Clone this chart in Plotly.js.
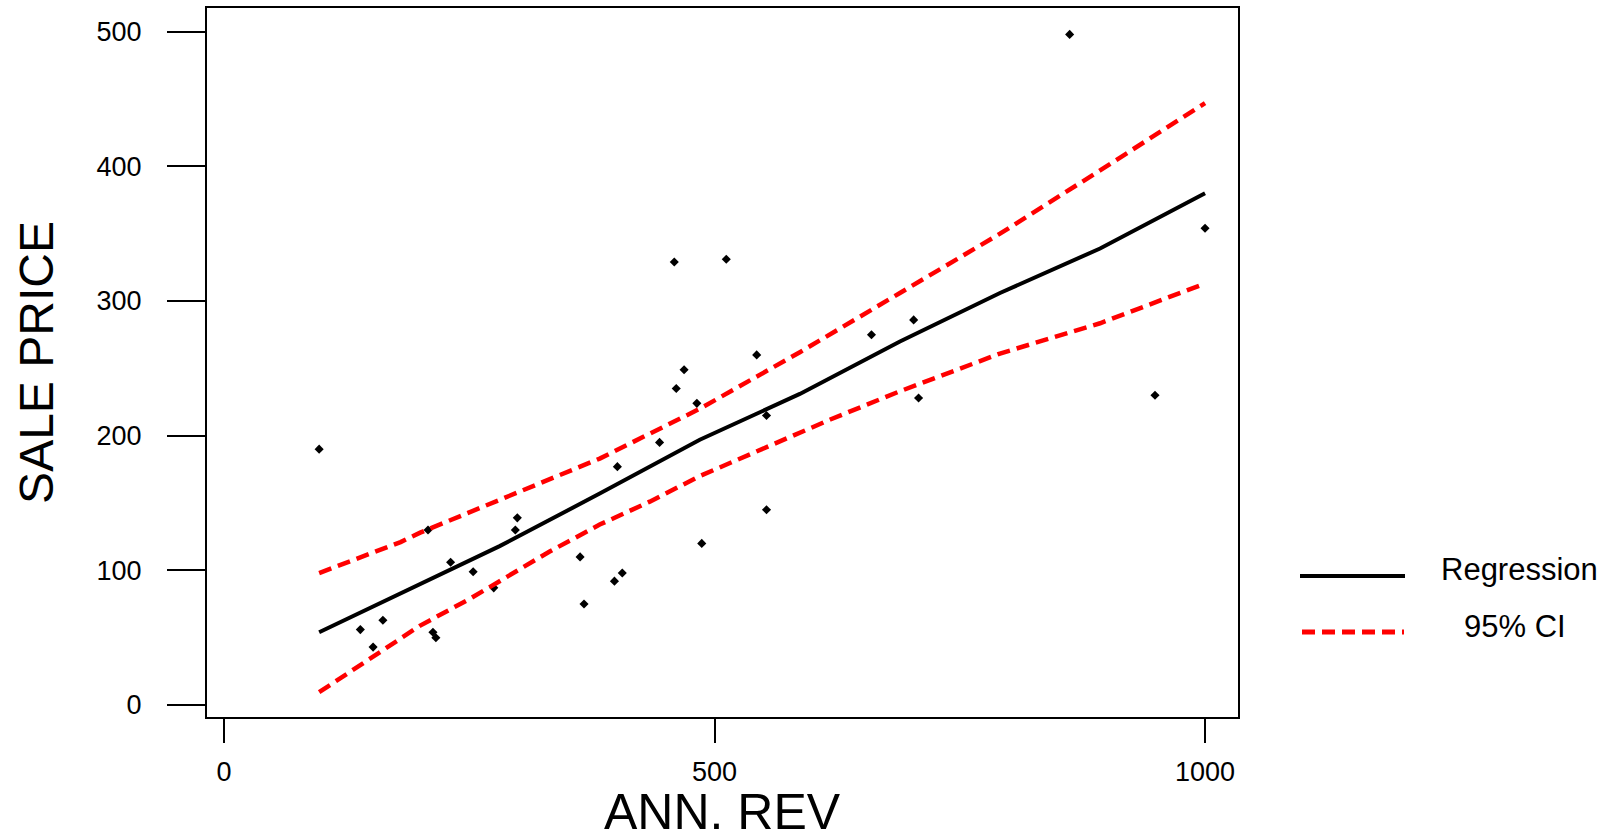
<!DOCTYPE html>
<html>
<head>
<meta charset="utf-8">
<script src="https://cdn.plot.ly/plotly-3.0.1.min.js"></script>
<style>html,body{margin:0;padding:0;background:#fff;}#chart{width:1613px;height:840px;}</style>
</head>
<body>
<div id="chart"></div>
<script>
// Observed data (ANN. REV vs SALE PRICE)
const annRev = [97, 139, 152, 162, 208, 213, 216, 231, 254, 275, 297, 299, 363, 367, 398, 406, 401, 444, 459, 461, 469, 482, 487, 512, 543, 553, 553, 660, 703, 708, 862, 949, 1000];
const salePrice = [190, 56, 43, 63, 130, 54, 50, 106, 99, 87, 130, 139, 110, 75, 92, 98, 177, 195, 329, 235, 249, 224, 120, 331, 260, 215, 145, 275, 286, 228, 498, 230, 354];

// Regression line
const regX = [97, 180, 281, 383, 485, 587, 689, 791, 893, 1000];
const regY = [54, 83, 118, 157, 197, 231, 270, 306, 339, 380];

// Upper 95% CI
const ciUpX = [97, 180, 200, 281, 383, 485, 587, 689, 791, 893, 1000];
const ciUpY = [98, 121, 128, 152, 183, 220, 262, 306, 350, 397, 447];

// Lower 95% CI
const ciLoX = [97, 200, 251, 332, 383, 434, 485, 582, 618, 689, 791, 893, 1000];
const ciLoY = [9.5, 59, 79, 114, 134, 151, 170, 200, 212, 233, 261, 283.5, 313];

const xTicks = [0, 500, 1000];
const yTicks = [0, 100, 200, 300, 400, 500];
const legendLabels = ["Regression", "95% CI"];
const xTitle = "ANN. REV";
const yTitle = "SALE PRICE";

const FONT = "Liberation Sans, Arial, Helvetica, sans-serif";
const RED = "#ff0000";
const ciDash = "13px,7px";

const traces = [
  {x: annRev, y: salePrice, type: "scatter", mode: "markers", name: "Data",
   marker: {symbol: "diamond", size: 7, color: "#000000", line: {width: 0}}, showlegend: false},
  {x: ciUpX, y: ciUpY, type: "scatter", mode: "lines", name: "95% CI upper",
   line: {color: RED, width: 4.5, dash: ciDash}, showlegend: false},
  {x: ciLoX, y: ciLoY, type: "scatter", mode: "lines", name: "95% CI lower",
   line: {color: RED, width: 4.5, dash: ciDash}, showlegend: false},
  {x: regX, y: regY, type: "scatter", mode: "lines", name: "Regression",
   line: {color: "#000000", width: 4}, showlegend: false}
];

// plot area in pixels
const L = 207, R = 375, T = 8, B = 123, W = 1613, H = 840;
const pw = W - L - R, ph = H - T - B;
const px = v => (v - L) / pw;
const py = v => (H - B - v) / ph;

const layout = {
  width: W, height: H,
  margin: {l: L, r: R, t: T, b: B, pad: 0},
  paper_bgcolor: "#ffffff", plot_bgcolor: "#ffffff",
  font: {family: FONT, color: "#000000", size: 27},
  showlegend: false,
  xaxis: {
    range: [-17.3, 1033.6], tickvals: xTicks, ticktext: xTicks.map(String),
    ticks: "outside", ticklen: 24, tickwidth: 2, tickcolor: "#000",
    showline: true, mirror: true, linecolor: "#000", linewidth: 2,
    showgrid: false, zeroline: false, automargin: false,
    tickfont: {size: 27, family: FONT}, ticklabelstandoff: 6
  },
  yaxis: {
    range: [-8.9, 517.6], tickvals: yTicks, ticktext: yTicks.map(String),
    ticks: "outside", ticklen: 38, tickwidth: 2, tickcolor: "#000",
    showline: true, mirror: true, linecolor: "#000", linewidth: 2,
    showgrid: false, zeroline: false, automargin: false,
    tickfont: {size: 27, family: FONT}, ticklabelstandoff: 20,
    title: {text: yTitle, font: {size: 48, family: FONT}, standoff: 28}
  },
  shapes: [
    {type: "line", xref: "paper", yref: "paper", x0: px(1300), x1: px(1405), y0: py(576), y1: py(576),
     line: {color: "#000", width: 4}},
    {type: "line", xref: "paper", yref: "paper", x0: px(1302), x1: px(1404), y0: py(632), y1: py(632),
     line: {color: RED, width: 5, dash: ciDash}}
  ],
  annotations: [
    {xref: "paper", yref: "paper", x: 0.5, y: py(812), xanchor: "center", yanchor: "middle",
     text: xTitle, showarrow: false, font: {size: 50, family: FONT, color: "#000"}},
    {xref: "paper", yref: "paper", x: px(1439), y: py(569), xanchor: "left", yanchor: "middle",
     text: legendLabels[0], showarrow: false, font: {size: 31, family: FONT, color: "#000"}},
    {xref: "paper", yref: "paper", x: px(1515), y: py(626), xanchor: "center", yanchor: "middle",
     text: legendLabels[1], showarrow: false, font: {size: 31, family: FONT, color: "#000"}}
  ]
};

Plotly.newPlot("chart", traces, layout, {staticPlot: true, displayModeBar: false});
</script>
</body>
</html>
